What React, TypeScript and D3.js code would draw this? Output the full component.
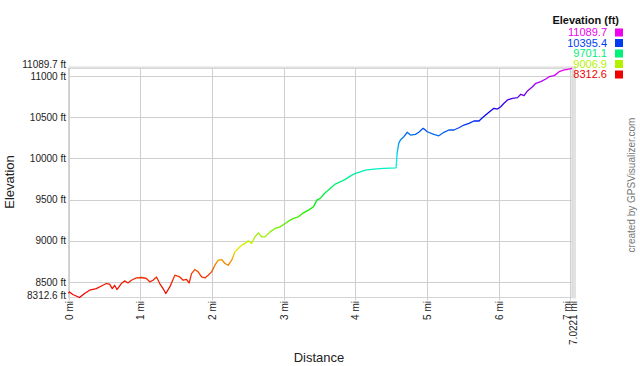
import React from "react";
import * as d3 from "d3";

const distMi = [0, 0.014, 0.06, 0.154, 0.224, 0.294, 0.387, 0.48, 0.527, 0.573, 0.611, 0.643, 0.676, 0.737, 0.783, 0.829, 0.877, 0.947, 1.017, 1.087, 1.133, 1.179, 1.227, 1.273, 1.319, 1.357, 1.413, 1.483, 1.552, 1.599, 1.646, 1.683, 1.716, 1.762, 1.808, 1.856, 1.902, 1.948, 1.996, 2.042, 2.088, 2.136, 2.182, 2.228, 2.276, 2.322, 2.368, 2.415, 2.462, 2.508, 2.555, 2.601, 2.648, 2.695, 2.741, 2.811, 2.881, 2.951, 3.021, 3.091, 3.137, 3.207, 3.277, 3.347, 3.417, 3.464, 3.51, 3.58, 3.65, 3.72, 3.79, 3.86, 3.93, 4.0, 4.07, 4.14, 4.256, 4.396, 4.569, 4.583, 4.606, 4.629, 4.676, 4.723, 4.769, 4.839, 4.885, 4.947, 5.003, 5.095, 5.165, 5.235, 5.305, 5.375, 5.445, 5.515, 5.585, 5.655, 5.725, 5.772, 5.818, 5.864, 5.934, 5.982, 6.028, 6.074, 6.122, 6.192, 6.262, 6.308, 6.354, 6.401, 6.471, 6.517, 6.587, 6.657, 6.703, 6.773, 6.843, 6.913, 6.961, 7.0221];

const elevFt = [8364, 8380, 8349, 8312.6, 8361, 8401, 8421, 8461, 8482, 8474, 8421, 8461, 8409, 8482, 8514, 8489, 8522, 8550, 8555, 8543, 8502, 8522, 8562, 8482, 8421, 8361, 8441, 8583, 8562, 8522, 8531, 8489, 8603, 8652, 8623, 8562, 8550, 8583, 8623, 8704, 8765, 8773, 8725, 8704, 8765, 8866, 8907, 8947, 8968, 8999, 8968, 9048, 9096, 9048, 9048, 9108, 9150, 9169, 9210, 9250, 9271, 9290, 9339, 9372, 9412, 9493, 9514, 9582, 9635, 9687, 9715, 9744, 9784, 9817, 9836, 9857, 9869, 9878, 9885, 10060, 10181, 10221, 10261, 10315, 10282, 10290, 10315, 10363, 10322, 10290, 10273, 10315, 10343, 10343, 10370, 10403, 10424, 10452, 10452, 10492, 10525, 10557, 10606, 10597, 10625, 10667, 10707, 10727, 10735, 10776, 10759, 10816, 10868, 10909, 10929, 10961, 10989, 11002, 11050, 11071, 11079, 11089.7];

const xTicks = [0, 1, 2, 3, 4, 5, 6, 7];
const yTicks = [8500, 9000, 9500, 10000, 10500, 11000];
const legendValues = [11089.7, 10395.4, 9701.1, 9006.9, 8312.6];
const minElev = 8312.6;
const maxElev = 11089.7;
const totalDist = 7.0221;

const FONT = "'Liberation Sans', Arial, Helvetica, sans-serif";

export default function App() {
  const x = d3.scaleLinear().domain([0, totalDist]).range([68.5, 572]);
  const y = d3.scaleLinear().domain([minElev, maxElev]).range([297.5, 68.4]);
  const hue = d3
    .scaleLinear()
    .domain([minElev, 8550, 8650, 8770, 8880, 9006.9, maxElev])
    .range([0, 10, 22, 40, 57, 75, 300])
    .clamp(true);
  const col = (e: number) => d3.hsl(hue(e), 1, 0.47).formatHex();
  const n = Math.min(distMi.length, elevFt.length);
  const pts: [number, number][] = d3.range(n).map((i) => [distMi[i], elevFt[i]]);
  const line = d3
    .line<[number, number]>()
    .x((p) => x(p[0]))
    .y((p) => y(p[1]));
  const stops = d3.range(0, 1.00001, 0.025);

  const [x0, x1] = x.range();
  const [yb, yt] = y.range();

  return (
    <svg
      width={640}
      height={366}
      style={{ position: "absolute", left: 0, top: 0, display: "block", background: "#fff" }}
      fontFamily={FONT}
    >
      <defs>
        <linearGradient id="elevGrad" gradientUnits="userSpaceOnUse" x1={0} y1={yb} x2={0} y2={yt}>
          {stops.map((t) => (
            <stop key={t} offset={t} stopColor={col(minElev + t * (maxElev - minElev))} />
          ))}
        </linearGradient>
      </defs>

      {/* plot frame */}
      <rect x={x1} y={yt - 1} width={4} height={yb - yt + 2} fill="#e2e2e2" />
      <rect x={x0} y={yt - 2} width={x1 - x0 + 4} height={2} fill="#e2e2e2" />
      <rect x={x0} y={yt} width={x1 - x0} height={yb - yt} fill="none" stroke="#d4d4d4" strokeWidth={1} />

      {/* grid */}
      {yTicks.map((v) => (
        <line key={"gy" + v} x1={x0} x2={x1} y1={Math.round(y(v)) + 0.5} y2={Math.round(y(v)) + 0.5} stroke="#cfcfcf" strokeWidth={1} />
      ))}
      {xTicks.map((v) => (
        <line key={"gx" + v} x1={Math.round(x(v)) + 0.5} x2={Math.round(x(v)) + 0.5} y1={yt} y2={yb + 3} stroke="#cfcfcf" strokeWidth={1} />
      ))}

      {/* y labels */}
      {yTicks.map((v) => (
        <text key={"ly" + v} x={66} y={y(v) + (v === 11000 ? 0.5 : 0)} dy="0.35em" textAnchor="end" fontSize={10} fill="#222">
          {v} ft
        </text>
      ))}
      <text x={66} y={y(maxElev) - 3.8} dy="0.35em" textAnchor="end" fontSize={10} fill="#222">
        {maxElev} ft
      </text>
      <text x={66} y={y(minElev) - 2.5} dy="0.35em" textAnchor="end" fontSize={10} fill="#222">
        {minElev} ft
      </text>

      {/* x labels */}
      {xTicks.map((v) => {
        const cx = x(v) + (v === 7 ? -3 : 0.5);
        return (
          <text key={"lx" + v} x={cx} y={301} dy="0.35em" textAnchor="end" fontSize={10} fill="#222" transform={`rotate(-90, ${cx}, 301)`}>
            {v} mi
          </text>
        );
      })}
      {(() => {
        const cx = x(totalDist) + 1.5;
        return (
          <text x={cx} y={301} dy="0.35em" textAnchor="end" fontSize={10} fill="#222" transform={`rotate(-90, ${cx}, 301)`}>
            {totalDist} mi
          </text>
        );
      })()}

      {/* axis titles */}
      <text x={13.5} y={182} textAnchor="middle" fontSize={13} fill="#222" transform="rotate(-90, 13.5, 182)">
        Elevation
      </text>
      <text x={319} y={362} textAnchor="middle" fontSize={13} fill="#222">
        Distance
      </text>

      {/* profile line */}
      <path d={line(pts) || ""} fill="none" stroke="url(#elevGrad)" strokeWidth={1.3} strokeLinejoin="round" />

      {/* legend */}
      <text x={619} y={23.5} textAnchor="end" fontSize={11} fontWeight="bold" fill="#111">
        Elevation (ft)
      </text>
      {legendValues.map((v, i) => {
        const cy = 32.5 + i * 10.5;
        return (
          <g key={"lg" + v}>
            <text x={607} y={cy} dy="0.35em" textAnchor="end" fontSize={11} fill={col(v)}>
              {v.toFixed(1)}
            </text>
            <rect x={615} y={cy - 4} width={8} height={8} fill={col(v)} />
          </g>
        );
      })}

      {/* credit */}
      <text x={635} y={185} textAnchor="middle" fontSize={10} fill="#777" transform="rotate(-90, 635, 185)">
        created by GPSVisualizer.com
      </text>
    </svg>
  );
}
